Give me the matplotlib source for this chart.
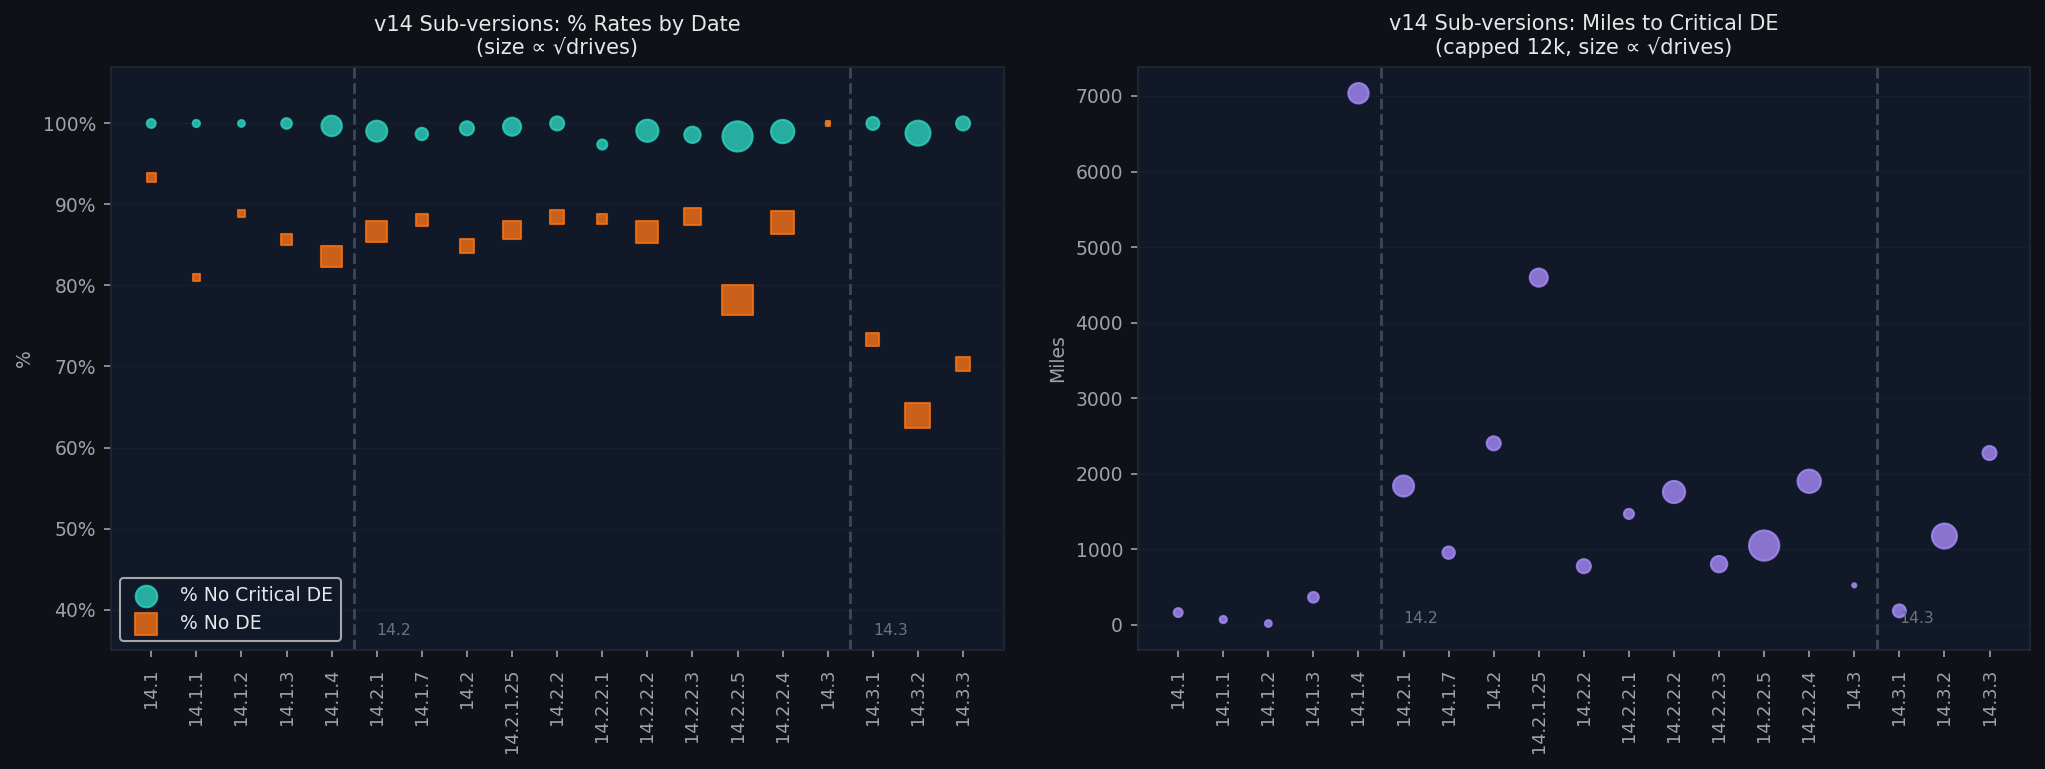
import matplotlib
matplotlib.use("Agg")
import matplotlib.pyplot as plt
import numpy as np
from matplotlib.ticker import PercentFormatter

# sub-versions in date order
versions = ["14.1", "14.1.1", "14.1.2", "14.1.3", "14.1.4", "14.2.1", "14.1.7",
            "14.2", "14.2.1.25", "14.2.2", "14.2.2.1", "14.2.2.2", "14.2.2.3",
            "14.2.2.5", "14.2.2.4", "14.3", "14.3.1", "14.3.2", "14.3.3"]
drives = [21, 9, 7, 43, 572, 643, 78, 130, 354, 130, 34, 798, 239, 2756, 977,
          1, 94, 1296, 130]
pct_no_crit = [100.0, 100.0, 100.0, 100.0, 99.7, 99.05, 98.7, 99.4, 99.6, 100.0,
               97.4, 99.1, 98.6, 98.4, 99.0, 100.0, 100.0, 98.8, 100.0]
pct_no_de = [93.3, 81.0, 88.9, 85.7, 83.6, 86.65, 88.1, 84.9, 86.9, 88.4, 88.2,
             86.6, 88.5, 78.2, 87.8, 100.0, 73.3, 63.9, 70.3]
miles_crit = [162, 70, 17, 364, 7036, 1837, 955, 2402, 4596, 776, 1468, 1758,
              803, 1049, 1900, 522, 184, 1175, 2274]
# (boundary position, label) for the major-version splits
splits = [(4.5, "14.2"), (15.5, "14.3")]

FIG_BG = "#0f1117"
AX_BG = "#111827"
TXT = "#e5e7eb"
MUTED = "#9ca3af"

fig = plt.figure(figsize=(2045 / 150, 769 / 150), dpi=150, facecolor=FIG_BG)
ax1 = fig.add_axes([0.0541, 0.1547, 0.4367, 0.7585])
ax2 = fig.add_axes([0.5563, 0.1547, 0.4364, 0.7585])

x = np.arange(len(versions))
sizes = 4 * np.sqrt(np.array(drives))

for ax in (ax1, ax2):
    ax.set_facecolor(AX_BG)
    for sp in ax.spines.values():
        sp.set_color("#1f2937")
    ax.tick_params(colors=MUTED, labelsize=9)
    ax.tick_params(axis="x", labelsize=8.5, pad=5.5)
    ax.grid(axis="y", color="#1f2937", linewidth=0.6, alpha=0.5)
    ax.set_axisbelow(True)
    for xb, _ in splits:
        ax.axvline(xb, color="#3b4555", linestyle="--", linewidth=1.4, zorder=1)

# left: percentages
ax1.scatter(x, pct_no_crit, s=sizes, color="#2dd4bf", alpha=0.8, marker="o",
            label="% No Critical DE", zorder=3)
ax1.scatter(x, pct_no_de, s=sizes, color="#f97316", alpha=0.8, marker="s",
            label="% No DE", zorder=3)
ax1.set_ylim(35, 107)
ax1.yaxis.set_major_formatter(PercentFormatter(xmax=100, decimals=0))
ax1.set_ylabel("%", color=MUTED, fontsize=9)
ax1.set_title("v14 Sub-versions: % Rates by Date\n(size \u221d \u221adrives)",
              color=TXT, fontsize=10)
leg = ax1.legend(loc="lower left", fontsize=9, facecolor=AX_BG)
for t in leg.get_texts():
    t.set_color(TXT)
for xb, lab in splits:
    ax1.text(xb + 0.5, 36.5, lab, color="#6b7280", fontsize=7.5,
             ha="left", va="bottom")

# right: miles to critical DE
ax2.scatter(x, miles_crit, s=sizes, color="#a78bfa", alpha=0.8, zorder=3)
ax2.set_ylabel("Miles", color=MUTED, fontsize=9)
ax2.set_title("v14 Sub-versions: Miles to Critical DE\n(capped 12k, size \u221d \u221adrives)",
              color=TXT, fontsize=10)
for xb, lab in splits:
    ax2.text(xb + 0.5, -20, lab, color="#6b7280", fontsize=7.5,
             ha="left", va="bottom")

for ax in (ax1, ax2):
    ax.set_xticks(x)
    ax.set_xticklabels(versions, rotation=90)

fig.savefig("out.png", dpi=150, facecolor=FIG_BG)
